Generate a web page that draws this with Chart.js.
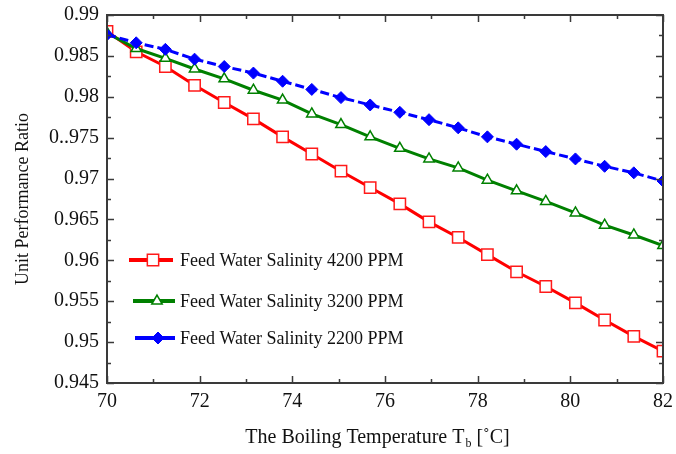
<!DOCTYPE html>
<html>
<head>
<meta charset="utf-8">
<script src="https://cdn.jsdelivr.net/npm/chart.js@4.4.1/dist/chart.umd.min.js"></script>
<style>
  html, body { margin: 0; padding: 0; background: #fff; }
  #wrap { width: 676px; height: 454px; }
</style>
</head>
<body>
<div id="wrap"><canvas id="upr"></canvas></div>
<script>
// boiling temperature (x), 20 points
const temps = [70, 70.63, 71.26, 71.89, 72.53, 73.16, 73.79, 74.42, 75.05, 75.68,
               76.32, 76.95, 77.58, 78.21, 78.84, 79.47, 80.11, 80.74, 81.37, 82];
const salinity4200 = [0.9880, 0.9855, 0.9837, 0.9814, 0.9793, 0.9773, 0.9751, 0.9730, 0.9709, 0.9689,
                      0.9669, 0.9647, 0.9628, 0.9607, 0.9586, 0.9568, 0.9548, 0.9527, 0.9507, 0.9489];
const salinity3200 = [0.9878, 0.9859, 0.9847, 0.9834, 0.9822, 0.9808, 0.9796, 0.9779, 0.9766, 0.9751,
                      0.9737, 0.9724, 0.9713, 0.9698, 0.9685, 0.9672, 0.9658, 0.9643, 0.9631, 0.9618];
const salinity2200 = [0.9876, 0.9866, 0.9858, 0.9846, 0.9837, 0.9829, 0.9819, 0.9809, 0.9799, 0.9790,
                      0.9781, 0.9772, 0.9762, 0.9751, 0.9742, 0.9733, 0.9724, 0.9715, 0.9707, 0.9697];
const seriesLabels = ["Feed Water Salinity 4200 PPM", "Feed Water Salinity 3200 PPM", "Feed Water Salinity 2200 PPM"];
const yTickLabels = ["0.945", "0.95", "0.955", "0.96", "0.965", "0.97", "0..975", "0.98", "0.985", "0.99"];
const xTickLabels = ["70", "72", "74", "76", "78", "80", "82"];

const serif = "'Liberation Serif', 'Times New Roman', serif";
const frameColor = '#3a3a3a';

function pts(ys){ return ys.map((y, i) => ({x: temps[i], y: y})); }

// inward ticks on all four sides + the box
const framePlugin = {
	id: 'frame',
	afterDraw(chart){
		const ctx = chart.ctx;
		const a = chart.chartArea;
		const xs = chart.scales.x, ys = chart.scales.y;
		ctx.save();
		ctx.strokeStyle = frameColor;
		ctx.lineWidth = 1.5;
		for (let v = 70; v <= 82; v++) {
			const px = Math.round(xs.getPixelForValue(v)) + 0.5;
			const len = (v % 2 === 0) ? 7 : 4;
			ctx.beginPath();
			ctx.moveTo(px, a.bottom); ctx.lineTo(px, a.bottom - len);
			ctx.moveTo(px, a.top); ctx.lineTo(px, a.top + len);
			ctx.stroke();
		}
		for (let k = 0; k <= 18; k++) {
			const v = 0.945 + k * 0.0025;
			const py = Math.round(ys.getPixelForValue(v)) + 0.5;
			const len = (k % 2 === 0) ? 7 : 4;
			ctx.beginPath();
			ctx.moveTo(a.left, py); ctx.lineTo(a.left + len, py);
			ctx.moveTo(a.right, py); ctx.lineTo(a.right - len, py);
			ctx.stroke();
		}
		ctx.lineWidth = 2;
		ctx.strokeRect(a.left, a.top, a.right - a.left, a.bottom - a.top);

		// x title with subscript
		ctx.fillStyle = '#111';
		ctx.textBaseline = 'alphabetic';
		const main = "The Boiling Temperature T";
		const sub = "b";
		const tail = " [˚C]";
		ctx.font = "20px " + serif;
		const w1 = ctx.measureText(main).width;
		const w3 = ctx.measureText(tail).width;
		ctx.font = "12px " + serif;
		const w2 = ctx.measureText(sub).width;
		let x0 = 377 - (w1 + w2 + w3) / 2;
		const base = 443;
		ctx.font = "20px " + serif;
		ctx.textAlign = 'left';
		ctx.fillText(main, x0, base);
		ctx.font = "12px " + serif;
		ctx.fillText(sub, x0 + w1 + 1, base + 4);
		ctx.font = "20px " + serif;
		ctx.fillText(tail, x0 + w1 + w2 + 1, base);
		ctx.restore();
	}
};

// legend inside the plot, lower left
const legendPlugin = {
	id: 'insideLegend',
	afterDatasetsDraw(chart){
		const ctx = chart.ctx;
		const a = chart.chartArea;
		const rows = [
			{ds: chart.data.datasets[0], y: a.top + 245, x1: a.left + 22, x2: a.left + 66, mx: a.left + 46},
			{ds: chart.data.datasets[1], y: a.top + 286, x1: a.left + 26, x2: a.left + 68, mx: a.left + 50},
			{ds: chart.data.datasets[2], y: a.top + 323, x1: a.left + 28, x2: a.left + 68, mx: a.left + 51},
		];
		ctx.save();
		rows.forEach(r => {
			const ds = r.ds;
			ctx.strokeStyle = ds.borderColor;
			ctx.lineWidth = 4;
			ctx.setLineDash([]);
			ctx.beginPath();
			ctx.moveTo(r.x1, r.y); ctx.lineTo(r.x2, r.y);
			ctx.stroke();
			ctx.fillStyle = ds.pointBackgroundColor;
			ctx.strokeStyle = ds.pointBorderColor;
			ctx.lineWidth = ds.pointBorderWidth;
			Chart.helpers.drawPoint(ctx, {pointStyle: ds.pointStyle, radius: ds.pointRadius, rotation: 0, borderWidth: ds.pointBorderWidth}, r.mx, r.y);
			ctx.fillStyle = '#111';
			ctx.font = "18px " + serif;
			ctx.textAlign = 'left';
			ctx.textBaseline = 'middle';
			ctx.fillText(ds.label, a.left + 73, r.y + 1);
		});
		ctx.restore();
	}
};

const data = {
	datasets: [
		{
			label: seriesLabels[0],
			data: pts(salinity4200),
			borderColor: '#ff0000',
			borderWidth: 3,
			pointStyle: 'rect',
			pointRadius: 8,
			pointBackgroundColor: '#ffffff',
			pointBorderColor: '#ff1a1a',
			pointBorderWidth: 1.5,
			order: 3,
		},
		{
			label: seriesLabels[1],
			data: pts(salinity3200),
			borderColor: '#008000',
			borderWidth: 3,
			pointStyle: 'triangle',
			pointRadius: 6,
			pointBackgroundColor: '#ffffff',
			pointBorderColor: '#008000',
			pointBorderWidth: 1.5,
			order: 2,
		},
		{
			label: seriesLabels[2],
			data: pts(salinity2200),
			borderColor: '#0000ff',
			borderWidth: 3,
			borderDash: [9, 4],
			pointStyle: 'rectRot',
			pointRadius: 6,
			pointBackgroundColor: '#0000ff',
			pointBorderColor: '#0000ff',
			pointBorderWidth: 1,
			order: 1,
		},
	],
};

const config = {
	type: 'line',
	data: data,
	plugins: [framePlugin, legendPlugin],
	options: {
		responsive: true,
		maintainAspectRatio: false,
		animation: false,
		clip: 0,
		layout: { padding: { top: 15, right: 13, left: 0, bottom: 0 } },
		plugins: { legend: { display: false }, tooltip: { enabled: false } },
		scales: {
			x: {
				type: 'linear',
				min: 70,
				max: 82,
				afterFit: (s) => { s.height = 71; s.paddingLeft = 0; s.paddingRight = 0; },
				afterBuildTicks: (s) => { s.ticks = xTickLabels.map(t => ({value: parseFloat(t)})); },
				ticks: {
					color: '#111',
					font: { family: serif, size: 20 },
					padding: 7,
					maxRotation: 0,
					callback: (v) => xTickLabels[xTickLabels.indexOf(String(v))] ?? '',
				},
				grid: { display: true, drawOnChartArea: false, drawTicks: false },
				border: { display: false },
			},
			y: {
				type: 'linear',
				min: 0.945,
				max: 0.99,
				afterFit: (s) => { s.width = 107; s.paddingTop = 0; s.paddingBottom = 0; },
				afterBuildTicks: (s) => { s.ticks = yTickLabels.map((t, i) => ({value: 0.945 + i * 0.005})); },
				ticks: {
					color: '#111',
					font: { family: serif, size: 20 },
					padding: 8,
					callback: (v) => yTickLabels[Math.round((v - 0.945) / 0.005)],
				},
				title: {
					display: true,
					text: 'Unit Performance Ratio',
					color: '#111',
					font: { family: serif, size: 18 },
					padding: { top: 12, bottom: 0 },
				},
				grid: { display: true, drawOnChartArea: false, drawTicks: false },
				border: { display: false },
			},
		},
	},
};

new Chart(document.getElementById('upr').getContext('2d'), config);
</script>
</body>
</html>
